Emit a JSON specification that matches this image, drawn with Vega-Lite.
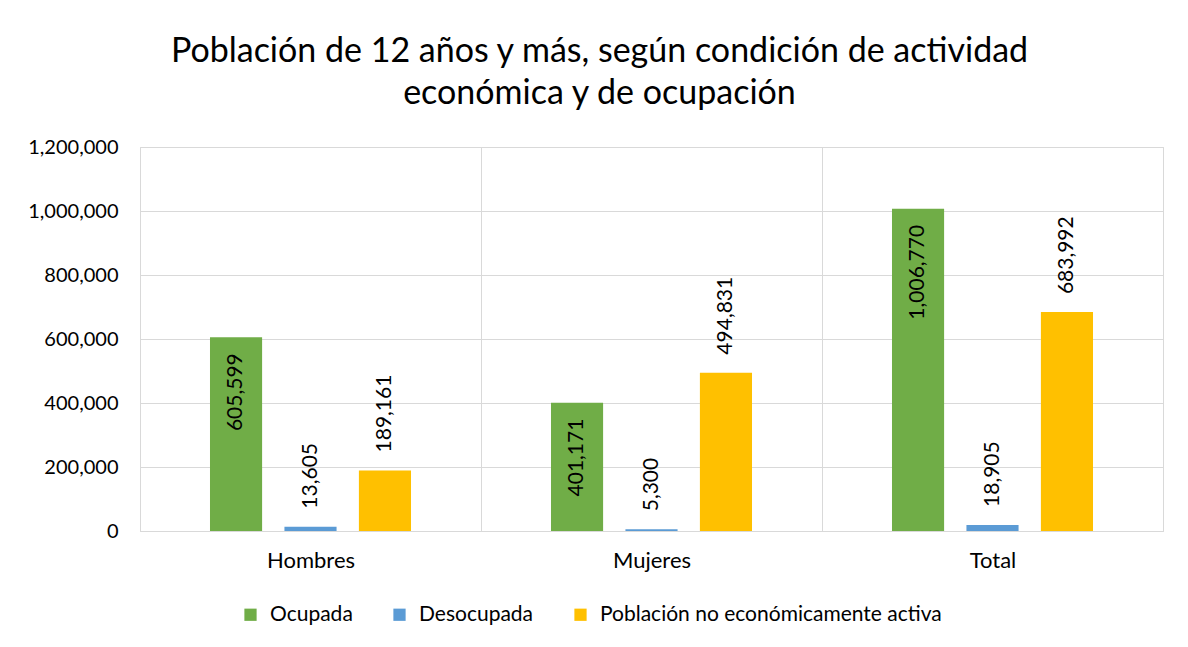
{
  "$schema": "https://vega.github.io/schema/vega-lite/v6.json",
  "width": 1023,
  "height": 384,
  "autosize": {"type": "none"},
  "padding": {"left": 140, "top": 147, "right": 25, "bottom": 116},
  "background": "white",
  "title": {
    "text": ["Población de 12 años y más, según condición de actividad", "económica y de ocupación"],
    "font": "Lato",
    "fontSize": 34,
    "fontWeight": "normal",
    "color": "#000000",
    "anchor": "middle",
    "dx": -52,
    "offset": 26,
    "lineHeight": 42
  },
  "data": {
    "values": [
      {"grupo": "Hombres", "condicion": "Ocupada", "valor": 605599},
      {"grupo": "Hombres", "condicion": "Desocupada", "valor": 13605},
      {"grupo": "Hombres", "condicion": "Población no económicamente activa", "valor": 189161},
      {"grupo": "Mujeres", "condicion": "Ocupada", "valor": 401171},
      {"grupo": "Mujeres", "condicion": "Desocupada", "valor": 5300},
      {"grupo": "Mujeres", "condicion": "Población no económicamente activa", "valor": 494831},
      {"grupo": "Total", "condicion": "Ocupada", "valor": 1006770},
      {"grupo": "Total", "condicion": "Desocupada", "valor": 18905},
      {"grupo": "Total", "condicion": "Población no económicamente activa", "valor": 683992}
    ]
  },
  "encoding": {
    "x": {
      "field": "grupo",
      "type": "nominal",
      "sort": ["Hombres", "Mujeres", "Total"],
      "scale": {"paddingInner": 0, "paddingOuter": 0},
      "axis": {
        "title": null,
        "labelAngle": 0,
        "ticks": false,
        "grid": true,
        "tickBand": "extent",
        "gridColor": "#d9d9d9",
        "domainColor": "#d9d9d9",
        "labelFont": "Lato",
        "labelFontSize": 22,
        "labelColor": "#000000",
        "labelPadding": 19
      }
    },
    "xOffset": {
      "field": "condicion",
      "type": "nominal",
      "sort": ["Ocupada", "Desocupada", "Población no económicamente activa"],
      "scale": {"paddingInner": 0.3, "paddingOuter": 0.94}
    },
    "y": {
      "field": "valor",
      "type": "quantitative",
      "scale": {"domain": [0, 1200000]},
      "axis": {
        "title": null,
        "values": [0, 200000, 400000, 600000, 800000, 1000000, 1200000],
        "format": ",d",
        "domain": false,
        "ticks": false,
        "gridColor": "#d9d9d9",
        "labelFont": "Lato",
        "labelFontSize": 20,
        "labelColor": "#000000",
        "labelPadding": 22
      }
    }
  },
  "layer": [
    {
      "mark": {"type": "bar"},
      "encoding": {
        "color": {
          "field": "condicion",
          "type": "nominal",
          "sort": ["Ocupada", "Desocupada", "Población no económicamente activa"],
          "scale": {
            "domain": ["Ocupada", "Desocupada", "Población no económicamente activa"],
            "range": ["#70AD47", "#5B9BD5", "#FFC000"]
          },
          "legend": {
            "title": null,
            "orient": "none",
            "legendX": 100,
            "legendY": 457,
            "direction": "horizontal",
            "symbolType": "square",
            "symbolSize": 150,
            "symbolStrokeWidth": 0,
            "labelFont": "Lato",
            "labelFontSize": 21,
            "labelColor": "#000000",
            "labelLimit": 0,
            "labelOffset": 9,
            "columnPadding": 36,
            "padding": 0
          }
        }
      }
    },
    {
      "transform": [{"filter": "datum.condicion === 'Ocupada'"}],
      "mark": {"type": "text", "angle": 270, "align": "right", "baseline": "middle", "dx": -16, "font": "Lato", "fontSize": 21, "color": "#000000"},
      "encoding": {"text": {"field": "valor", "type": "quantitative", "format": ",d"}}
    },
    {
      "transform": [{"filter": "datum.condicion !== 'Ocupada'"}],
      "mark": {"type": "text", "angle": 270, "align": "left", "baseline": "middle", "dx": 18, "font": "Lato", "fontSize": 21, "color": "#000000"},
      "encoding": {"text": {"field": "valor", "type": "quantitative", "format": ",d"}}
    }
  ],
  "config": {
    "view": {"stroke": "#d9d9d9"}
  }
}
